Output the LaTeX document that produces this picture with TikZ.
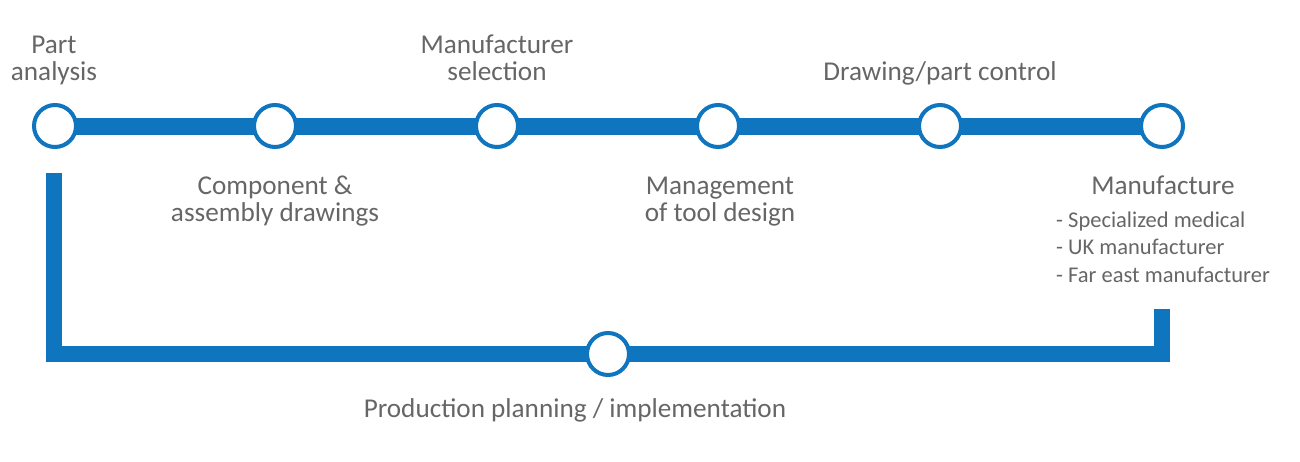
\documentclass[tikz,border=0pt]{standalone}
\usepackage{fontspec}
\setmainfont{Carlito}
\definecolor{lineblue}{RGB}{14,117,190}
\definecolor{txtgray}{RGB}{102,102,102}
\tikzset{
  stopnode/.style={circle, draw=lineblue, line width=4pt, fill=white, minimum size=42pt, inner sep=0pt},
  lbl/.style={text=txtgray, font=\fontsize{27.2}{27}\selectfont, align=center, inner sep=0pt, anchor=base},
  sublbl/.style={text=txtgray, font=\fontsize{22.5}{27.5}\selectfont, align=left, inner sep=0pt, anchor=base west}
}
\begin{document}
\begin{tikzpicture}[x=1pt,y=-1pt]
\useasboundingbox (0,0) rectangle (1300,461);
\foreach \i/\x in {1/55,2/275,3/497,4/718,5/940,6/1162} \coordinate (c\i) at (\x,126);
\coordinate (cb) at (608,354);
\coordinate (lstart) at (54,173);
\coordinate (lend) at (1162,309);
\draw[lineblue, line width=17pt] (c1) -- (c6);
\draw[lineblue, line width=16pt, miter limit=10] (lstart) |- (cb) -| (lend);
\foreach \i in {1,...,6} \node[stopnode] (p\i) at (c\i) {};
\node[stopnode] (pb) at (cb) {};
\node[lbl] (t1) at (54,80) {Part\\analysis};
\node[lbl] (t2) at (275,221) {Component \&\\assembly drawings};
\node[lbl] (t3) at (497,80) {Manufacturer\\selection};
\node[lbl] (t4) at (720,221) {Management\\of tool design};
\node[lbl] (t5) at (940,80) {Drawing/part control};
\node[lbl] (t6) at (1163,194) {Manufacture};
\node[sublbl] (t7) at (1056,282) {- Specialized medical\\- UK manufacturer\\- Far east manufacturer};
\node[lbl] (tb) at (575,417) {Production planning / implementation};
\end{tikzpicture}
\end{document}
